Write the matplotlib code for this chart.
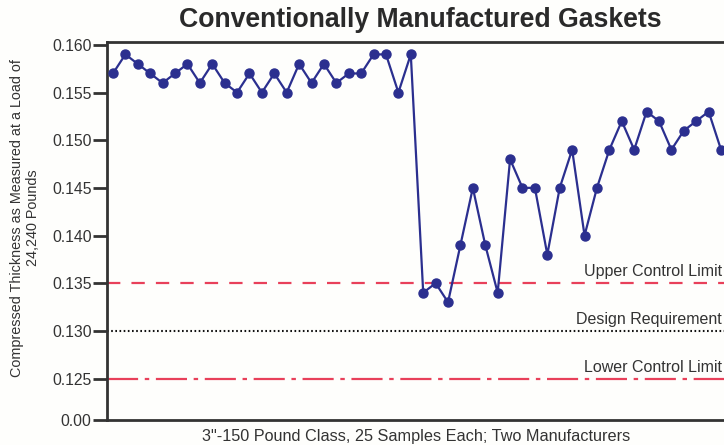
import matplotlib
matplotlib.use("Agg")
import matplotlib.pyplot as plt
import matplotlib.transforms as mtransforms

plt.rcParams['font.family'] = ['Liberation Sans', 'DejaVu Sans']

# Data (sample index 1..50: first 25 = manufacturer A, next 25 = manufacturer B)
manufacturer_a = [0.157, 0.159, 0.158, 0.157, 0.156, 0.157, 0.158, 0.156, 0.158, 0.156,
                  0.155, 0.157, 0.155, 0.157, 0.155, 0.158, 0.156, 0.158, 0.156, 0.157,
                  0.157, 0.159, 0.159, 0.155, 0.159]
manufacturer_b = [0.134, 0.135, 0.133, 0.139, 0.145, 0.139, 0.134, 0.148, 0.145, 0.145,
                  0.138, 0.145, 0.149, 0.140, 0.145, 0.149, 0.152, 0.149, 0.153, 0.152,
                  0.149, 0.151, 0.152, 0.153, 0.149]
thickness = manufacturer_a + manufacturer_b
samples = list(range(1, len(thickness) + 1))

upper_control_limit = 0.135
design_requirement = 0.130
lower_control_limit = 0.125
axis_floor = 0.1207  # position of the broken-axis "0.00" tick

tick_values = [axis_floor, 0.125, 0.130, 0.135, 0.140, 0.145, 0.150, 0.155, 0.160]
tick_labels = ["0.00", "0.125", "0.130", "0.135", "0.140", "0.145", "0.150", "0.155", "0.160"]

title = "Conventionally Manufactured Gaskets"
xlabel = '3"-150 Pound Class, 25 Samples Each; Two Manufacturers'
ylabel = "Compressed Thickness as Measured at a Load of\n24,240 Pounds"

W, H = 724, 445
fig = plt.figure(figsize=(W / 100, H / 100), dpi=100, facecolor='#fefefc')
left, right, bottom, top = 107, 728, 419.5, 42
ax = fig.add_axes([left / W, 1 - bottom / H, (right - left) / W, (bottom - top) / H])
ax.set_facecolor('#fefefc')

spine_col = '#333333'
for s in ['left', 'bottom', 'top']:
    ax.spines[s].set_color(spine_col)
    ax.spines[s].set_linewidth(2)
ax.spines['right'].set_visible(False)

red = '#e8405a'
ax.axhline(upper_control_limit, color=red, lw=1.6, dashes=(6, 5), zorder=1)
ax.axhline(design_requirement, color='#111111', lw=1.5, dashes=(0.8, 1.2), zorder=1)
ax.axhline(lower_control_limit, color=red, lw=1.6, dashes=(14, 3, 2, 3), zorder=1)

ax.plot(samples, thickness, color='#2b2f8f', lw=1.6, marker='o', markersize=6.5,
        markerfacecolor='#2b2f8f', markeredgecolor='#2b2f8f', zorder=3, clip_on=False)

ax.set_xlim(0.52, 50.56)
ax.set_ylim(axis_floor, 0.1603)
ax.set_xticks([])
ax.set_yticks(tick_values)
ax.set_yticklabels(tick_labels)
ax.tick_params(axis='y', direction='out', length=10, width=2, color=spine_col,
               labelsize=11.3, labelcolor='#333333', pad=1)

trans = mtransforms.blended_transform_factory(fig.transFigure, ax.transData)
for yv, txt in [(upper_control_limit, "Upper Control Limit"),
                (design_requirement, "Design Requirement"),
                (lower_control_limit, "Lower Control Limit")]:
    ax.annotate(txt, xy=(722 / W, yv), xycoords=trans, xytext=(0, 5),
                textcoords='offset points', ha='right', va='baseline',
                fontsize=11.5, color='#333333')

fig.text(420 / W, 1 - 20 / H, title, ha='center', va='center', fontsize=19.2,
         fontweight='bold', color='#2a2a2a')
fig.text(416 / W, 1 - 437 / H, xlabel, ha='center', va='center', fontsize=11.7,
         color='#333333')
fig.text(25 / W, 1 - 218 / H, ylabel, ha='center', va='center', rotation=90,
         fontsize=10.4, color='#333333', linespacing=1.25)

fig.savefig("out.png", dpi=100, facecolor=fig.get_facecolor())
